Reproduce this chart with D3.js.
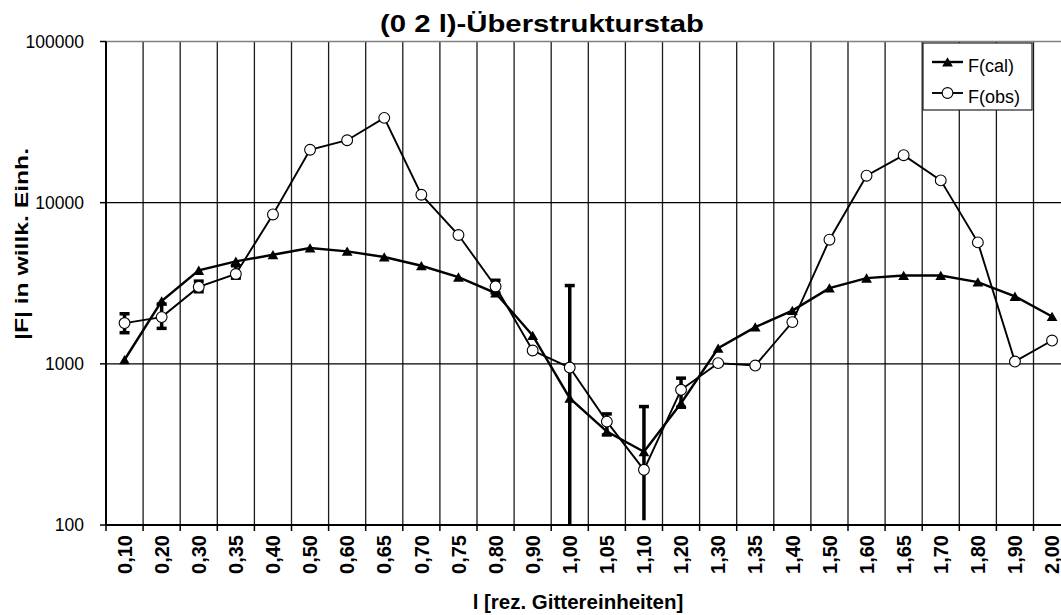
<!DOCTYPE html>
<html>
<head>
<meta charset="utf-8">
<script src="https://cdn.jsdelivr.net/npm/d3@7"></script>
<style>
  body { margin: 0; background: #fff; }
  svg { display: block; font-family: "Liberation Sans", Arial, sans-serif; }
</style>
</head>
<body>
<svg id="chart" width="1061" height="615"></svg>
<script>
// l-Werte (Kategorien der x-Achse)
const labels = ["0,10", "0,20", "0,30", "0,35", "0,40", "0,50", "0,60", "0,65", "0,70", "0,75",
  "0,80", "0,90", "1,00", "1,05", "1,10", "1,20", "1,30", "1,35", "1,40", "1,50",
  "1,60", "1,65", "1,70", "1,80", "1,90", "2,00"];

// berechnete Strukturfaktoren
const fCal = [1060, 2450, 3800, 4320, 4750, 5230, 4990, 4600, 4060, 3450,
  2750, 1500, 612, 380, 285, 570, 1250, 1690, 2140, 2950,
  3400, 3535, 3535, 3215, 2620, 1965];

// gemessene Strukturfaktoren
const fObs = [1790, 1950, 3000, 3610, 8450, 21300, 24400, 33600, 11200, 6300,
  3020, 1210, 948, 438, 220, 690, 1010, 976, 1815, 5890,
  14700, 19700, 13750, 5670, 1033, 1395];

// Fehlerbalken (obere / untere Grenze), null = kein Balken
const errHi = [2045, 2350, 3260, 4060, null, null, null, null, null, null,
  3300, null, 3060, 489, 543, 815, null, null, null, null,
  null, null, null, null, null, null];
const errLo = [1560, 1660, 2800, 3400, null, null, null, null, null, null,
  2750, null, 100, 362, 107, 538, null, null, null, null,
  null, null, null, null, null, null];

const yTicks = [100, 1000, 10000, 100000];

const svg = d3.select("#chart");
const pLeft = 106, pRight = 1070.6, pTop = 41.5, pBottom = 525;

const x = d3.scaleBand().domain(labels).range([pLeft, pRight]).padding(0);
const cx = (d) => x(d) + x.bandwidth() / 2;
const y = d3.scaleLog().domain([100, 100000]).range([pBottom, pTop]);

// Hintergrund + Raster
svg.append("rect")
  .attr("x", pLeft).attr("y", pTop)
  .attr("width", pRight - pLeft).attr("height", pBottom - pTop)
  .attr("fill", "#fff");

svg.append("g")
  .selectAll("line")
  .data(labels.slice(1))
  .enter()
  .append("line")
  .attr("x1", (d) => x(d)).attr("x2", (d) => x(d))
  .attr("y1", pTop).attr("y2", pBottom)
  .attr("stroke", "#1a1a1a")
  .attr("stroke-width", 1.3);

svg.append("g")
  .selectAll("line")
  .data([1000, 10000])
  .enter()
  .append("line")
  .attr("x1", pLeft).attr("x2", pRight)
  .attr("y1", (d) => y(d)).attr("y2", (d) => y(d))
  .attr("stroke", "#000")
  .attr("stroke-width", 1.3);

// oberer Rahmen
svg.append("line")
  .attr("x1", pLeft).attr("x2", pRight)
  .attr("y1", pTop).attr("y2", pTop)
  .attr("stroke", "#808080").attr("stroke-width", 1.5);

// y-Achse
const yAxis = svg.append("g").attr("transform", `translate(${pLeft},0)`);
yAxis.append("line")
  .attr("x1", 0).attr("x2", 0).attr("y1", pTop).attr("y2", pBottom)
  .attr("stroke", "#000").attr("stroke-width", 2);
yAxis.selectAll(".tick")
  .data(yTicks)
  .enter()
  .append("line")
  .attr("x1", -6).attr("x2", 0)
  .attr("y1", (d) => y(d)).attr("y2", (d) => y(d))
  .attr("stroke", "#000").attr("stroke-width", 1.5);
yAxis.selectAll("text")
  .data(yTicks)
  .enter()
  .append("text")
  .attr("x", -22)
  .attr("y", (d) => y(d))
  .attr("dy", "0.35em")
  .attr("text-anchor", "end")
  .style("font-size", "17.5px")
  .text((d) => d);

// x-Achse
const xAxis = svg.append("g").attr("transform", `translate(0,${pBottom})`);
xAxis.append("line")
  .attr("x1", pLeft).attr("x2", pRight).attr("y1", 0).attr("y2", 0)
  .attr("stroke", "#000").attr("stroke-width", 2);
xAxis.selectAll(".tick")
  .data(labels)
  .enter()
  .append("line")
  .attr("x1", (d) => x(d)).attr("x2", (d) => x(d))
  .attr("y1", 0).attr("y2", 6)
  .attr("stroke", "#000").attr("stroke-width", 1.5);
xAxis.selectAll("text")
  .data(labels)
  .enter()
  .append("text")
  .attr("transform", (d) => `translate(${cx(d)},10) rotate(-90)`)
  .attr("dy", "0.36em")
  .attr("text-anchor", "end")
  .style("font-size", "20px")
  .style("font-weight", "bold")
  .text((d) => d);

// Kurven
const line = (vals) => d3.line()
  .x((d, i) => cx(labels[i]))
  .y((d) => y(d))(vals);

svg.append("path")
  .attr("d", line(fCal))
  .attr("fill", "none").attr("stroke", "#000").attr("stroke-width", 2.4);

svg.append("path")
  .attr("d", line(fObs))
  .attr("fill", "none").attr("stroke", "#000").attr("stroke-width", 1.9);

// Fehlerbalken
const errIdx = labels.map((d, i) => i).filter((i) => errHi[i] != null);
const eb = svg.append("g").attr("stroke", "#000");
errIdx.forEach((i) => {
  const px = cx(labels[i]);
  eb.append("line")
    .attr("x1", px).attr("x2", px)
    .attr("y1", y(errHi[i])).attr("y2", y(errLo[i]))
    .attr("stroke-width", 3.5);
  eb.append("line")
    .attr("x1", px - 5).attr("x2", px + 5)
    .attr("y1", y(errHi[i])).attr("y2", y(errHi[i]))
    .attr("stroke-width", 3.5);
  if (errLo[i] > 120) {
    eb.append("line")
      .attr("x1", px - 5).attr("x2", px + 5)
      .attr("y1", y(errLo[i])).attr("y2", y(errLo[i]))
      .attr("stroke-width", 3.5);
  }
});

// Marker
const tri = d3.symbol().type(d3.symbolTriangle).size(50);
svg.append("g")
  .selectAll("path")
  .data(fCal)
  .enter()
  .append("path")
  .attr("d", tri)
  .attr("transform", (d, i) => `translate(${cx(labels[i])},${y(d) + 1.4})`)
  .attr("fill", "#000");

svg.append("g")
  .selectAll("circle")
  .data(fObs)
  .enter()
  .append("circle")
  .attr("cx", (d, i) => cx(labels[i]))
  .attr("cy", (d) => y(d))
  .attr("r", 5.4)
  .attr("fill", "#fff")
  .attr("stroke", "#000")
  .attr("stroke-width", 1.1);

// Legende
const lg = svg.append("g").attr("transform", "translate(923,43)");
lg.append("rect")
  .attr("width", 109).attr("height", 67)
  .attr("fill", "#fff").attr("stroke", "#222").attr("stroke-width", 1.2);
[["F(cal)", 19, "cal"], ["F(obs)", 50, "obs"]].forEach(([name, ly, kind]) => {
  lg.append("line")
    .attr("x1", 9).attr("x2", 40).attr("y1", ly).attr("y2", ly)
    .attr("stroke", "#000").attr("stroke-width", kind === "cal" ? 2.4 : 1.9);
  if (kind === "cal") {
    lg.append("path").attr("d", tri)
      .attr("transform", `translate(24.5,${ly + 1.4})`).attr("fill", "#000");
  } else {
    lg.append("circle").attr("cx", 24.5).attr("cy", ly).attr("r", 5.4)
      .attr("fill", "#fff").attr("stroke", "#000").attr("stroke-width", 1.1);
  }
  lg.append("text")
    .attr("x", 45).attr("y", ly + 10)
    .style("font-size", "18px")
    .text(name);
});

// Titel
svg.append("text")
  .attr("x", 542).attr("y", 32)
  .attr("text-anchor", "middle")
  .attr("textLength", 324).attr("lengthAdjust", "spacingAndGlyphs")
  .style("font-size", "24px").style("font-weight", "bold")
  .text("(0 2 l)-Überstrukturstab");

svg.append("text")
  .attr("transform", "translate(28,244) rotate(-90)")
  .attr("text-anchor", "middle")
  .attr("textLength", 192).attr("lengthAdjust", "spacingAndGlyphs")
  .style("font-size", "18px").style("font-weight", "bold")
  .text("|F| in willk. Einh.");

svg.append("text")
  .attr("x", 578).attr("y", 609)
  .attr("text-anchor", "middle")
  .style("font-size", "20.5px").style("font-weight", "bold")
  .text("l [rez. Gittereinheiten]");
</script>
</body>
</html>
